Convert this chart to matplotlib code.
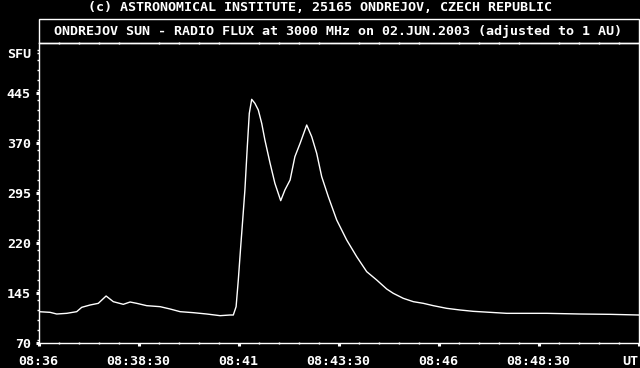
import matplotlib
matplotlib.use("Agg")
import matplotlib.pyplot as plt
from matplotlib.patches import Rectangle
from matplotlib.ticker import MultipleLocator

# minutes after 08:36 UT
minutes = [0.0, 0.29, 0.455, 0.705, 0.955, 1.08, 1.29, 1.495, 1.69, 1.87,
           2.12, 2.29, 2.455, 2.705, 3.04, 3.29, 3.54, 3.87, 4.205, 4.54,
           4.79, 4.87, 4.94, 4.995, 5.055, 5.105, 5.16, 5.22, 5.27, 5.33,
           5.41, 5.495, 5.58, 5.66, 5.79, 5.91, 6.055, 6.16, 6.29, 6.41,
           6.54, 6.705, 6.83, 6.955, 7.08, 7.245, 7.455, 7.705, 7.955, 8.205,
           8.455, 8.705, 8.87, 9.12, 9.37, 9.62, 9.87, 10.205, 10.54, 10.87,
           11.29, 11.705, 12.205, 12.705, 13.54, 14.29, 15.0]
# radio flux, SFU
flux = [117, 116, 113.5, 114.5, 117, 123.5, 127, 129.5, 140.5, 132,
        128, 131.5, 129.5, 126, 124.5, 121, 117, 115.5, 113.5, 111,
        112, 112, 124.5, 164.5, 214.5, 254.5, 299.5, 364.5, 414.5, 435.5,
        429.5, 419.5, 399.5, 374.5, 339.5, 309.5, 283.5, 299.5, 314.5, 349.5,
        369.5, 397, 379.5, 354.5, 319.5, 289.5, 254.5, 224.5, 199.5, 177,
        164.5, 151, 144.5, 137, 132, 129.5, 126, 122, 119.5, 117.5,
        116, 114.5, 114.5, 114.5, 113.5, 113, 112]

xticks = [0, 2.5, 5, 7.5, 10, 12.5, 15]
xlabels = ["08:36", "08:38:30", "08:41", "08:43:30", "08:46", "08:48:30", "UT"]
yticks = [70, 145, 220, 295, 370, 445, 505]
ylabels = ["70", "145", "220", "295", "370", "445", "SFU"]

title_top = "(c) ASTRONOMICAL INSTITUTE, 25165 ONDREJOV, CZECH REPUBLIC"
title_box = "ONDREJOV SUN - RADIO FLUX at 3000 MHz on 02.JUN.2003 (adjusted to 1 AU)"

plt.rcParams['font.family'] = 'DejaVu Sans Mono'
plt.rcParams['font.weight'] = 'bold'
plt.rcParams['font.size'] = 9.6

W, H = 640, 368
fig = plt.figure(figsize=(6.4, 3.68), dpi=100, facecolor='black')
ax = fig.add_axes([38.5 / W, 25 / H, 600 / W, 300 / H], facecolor='black')

ax.plot(minutes, flux, color='white', lw=1.0)
ax.set_xlim(0, 15)
ax.set_ylim(70, 520)

for s in ax.spines.values():
    s.set_color('white')
    s.set_linewidth(1.0)

ax.set_xticks(xticks)
ax.set_xticklabels(xlabels)
ax.set_yticks(yticks)
ax.set_yticklabels(ylabels)
ax.xaxis.set_minor_locator(MultipleLocator(0.5))
ax.yaxis.set_minor_locator(MultipleLocator(15))

ax.tick_params(axis='both', which='both', colors='white', direction='out')
ax.tick_params(axis='x', which='major', length=2.5, width=2.2, pad=6)
ax.tick_params(axis='x', which='minor', length=1.6, width=1.0)
ax.tick_params(axis='y', which='major', length=2.5, width=2.2, pad=3)
ax.tick_params(axis='y', which='minor', length=1.6, width=1.0)
ax.tick_params(axis='x', which='minor', top=True, direction='inout')
ax.yaxis.get_major_ticks()[-1].tick1line.set_markersize(1.6)
ax.yaxis.get_major_ticks()[-1].tick1line.set_markeredgewidth(1.0)
ax.xaxis.get_major_ticks()[-1].label1.set_horizontalalignment('right')
ax.xaxis.get_major_ticks()[-1].label1.set_x(15.02)

# title box above the plot area
fig.add_artist(Rectangle((38.5 / W, 325 / H), 600 / W, 23.5 / H,
                         transform=fig.transFigure, fill=False,
                         edgecolor='white', lw=1.0))
fig.text(320 / W, 1 - 7.5 / H, title_top, color='white',
         ha='center', va='center')
fig.text(338.5 / W, 1 - 32 / H, title_box, color='white',
         ha='center', va='center')

fig.savefig("out.png", dpi=100, facecolor='black')
